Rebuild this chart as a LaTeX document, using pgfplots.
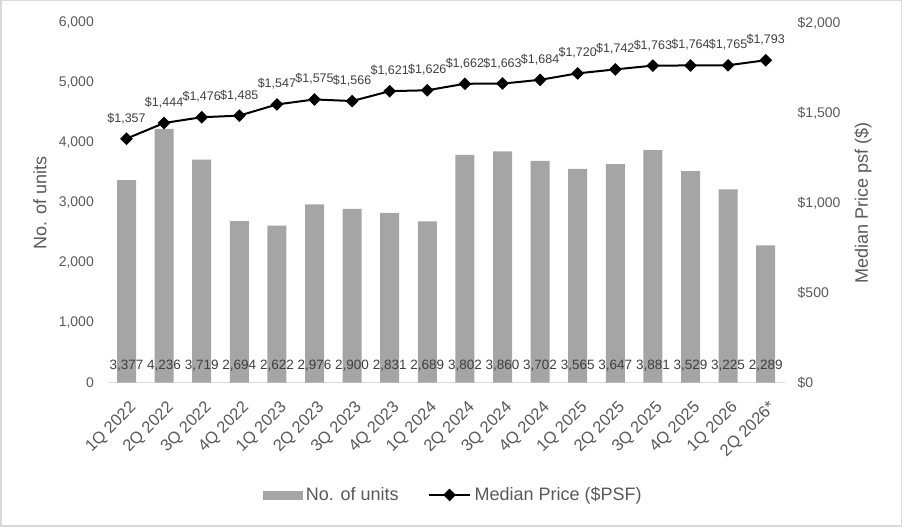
\documentclass[border=0pt]{standalone}
\usepackage{pgfplots}
\usepackage{pgfplotstable}
\pgfplotsset{compat=1.18}
\usepackage{fontspec}
\setmainfont{Liberation Sans}
\definecolor{barcol}{HTML}{A5A5A5}
\definecolor{txt}{HTML}{595959}
\definecolor{lbl}{HTML}{404040}
\definecolor{framec}{HTML}{D9D9D9}
\newcommand{\fs}[1]{\fontsize{#1}{#1}\selectfont}
\pgfplotsset{
  mylinelegend/.style={legend image code/.code={\draw[mark repeat=2,mark phase=2,##1] plot coordinates {(0pt,0pt) (20.5pt,0pt) (41pt,0pt)};}},
  mybarlegend/.style={legend image code/.code={\fill[barcol] (0pt,-4pt) rectangle (39pt,4pt);}},
}

\pgfplotstableread{
x u pos
0 3377 212
1 4236 212
2 3719 212
3 2694 212
4 2622 212
5 2976 212
6 2900 212
7 2831 212
8 2689 212
9 3802 212
10 3860 212
11 3702 212
12 3565 212
13 3647 212
14 3881 212
15 3529 212
16 3225 212
17 2289 212
}\units

\pgfplotstableread{
x p
0 1357
1 1444
2 1476
3 1485
4 1547
5 1575
6 1566
7 1621
8 1626
9 1662
10 1663
11 1684
12 1720
13 1742
14 1763
15 1764
16 1765
17 1793
}\price

\begin{document}
\begin{tikzpicture}[x=1pt,y=1pt]
\useasboundingbox (0,0) rectangle (902,527);
\draw[framec, line width=1.5pt] (0.75,0.75) rectangle (901.25,526.25);

\begin{axis}[
  at={(107.7pt,144.3pt)}, anchor=south west,
  scale only axis, width=676.8pt, height=359.7pt,
  xmin=-0.5, xmax=17.5, ymin=0, ymax=6000,
  clip=false,
  axis x line*=bottom, axis y line*=left,
  x axis line style={draw=framec, line width=1.5pt, -},
  y axis line style={draw=none},
  major tick length=0pt,
  xtick={0,...,17},
  xticklabels={1Q 2022,2Q 2022,3Q 2022,4Q 2022,1Q 2023,2Q 2023,3Q 2023,4Q 2023,1Q 2024,2Q 2024,3Q 2024,4Q 2024,1Q 2025,2Q 2025,3Q 2025,4Q 2025,1Q 2026,2Q 2026*},
  xticklabel style={yshift=-17pt, xshift=2pt, rotate=45, anchor=north east, inner sep=0pt, font=\fs{16.5}, text=txt},
  ytick={0,1000,...,6000},
  yticklabel style={anchor=east, inner sep=0pt, xshift=-13.7pt, font=\fs{14}, text=txt},
  /pgf/number format/1000 sep={,},
  /pgf/number format/assume math mode=true,
  ylabel={No. of units},
  every axis y label/.style={at={(axis description cs:0,0.5)}, xshift=-67.7pt, rotate=90, anchor=center, font=\fs{18}, text=txt},
]
\addplot[ybar, bar width=19pt, bar shift=0pt, fill=barcol, draw=none] table[x=x,y=u] {\units};
\addplot[only marks, mark=none, point meta=explicit, nodes near coords,
  nodes near coords style={anchor=base, inner sep=0pt, font=\fs{13.5}, text=lbl}]
  table[x=x,y=pos,meta=u] {\units};
\end{axis}

\begin{axis}[
  at={(107.7pt,144.3pt)}, anchor=south west,
  scale only axis, width=676.8pt, height=359.7pt,
  xmin=-0.5, xmax=17.5, ymin=0, ymax=2000,
  clip=false,
  axis x line=none, axis y line*=right,
  y axis line style={draw=none},
  major tick length=0pt,
  ytick={0,500,...,2000},
  yticklabels={\$0,\$500,{\$1,000},{\$1,500},{\$2,000}},
  yticklabel style={anchor=west, inner sep=0pt, xshift=13pt, font=\fs{14}, text=txt},
  /pgf/number format/1000 sep={,},
  /pgf/number format/assume math mode=true,
  ylabel={Median Price psf (\$)},
  every axis y label/.style={at={(axis description cs:1,0.5)}, xshift=78.5pt, rotate=90, anchor=center, font=\fs{18}, text=txt},
  legend columns=2,
  legend style={at={(axis description cs:0.5117,-0.312)}, anchor=center, draw=none, fill=none,
    font=\fs{18}, text=txt, inner sep=0pt,
    nodes={inner xsep=3.5pt, inner ysep=0pt},
    /tikz/every even column/.append style={column sep=26pt}},
]
\addlegendimage{mybarlegend}
\addlegendentry{No. of units}
\addplot[black, line width=2pt, mark=square*, mark size=3.5pt, mark options={rotate=45, solid},
  nodes near coords={\$\pgfmathprintnumber{\pgfplotspointmeta}},
  nodes near coords style={anchor=base, inner sep=0pt, yshift=16.5pt, font=\fs{12.5}, text=lbl},
  mylinelegend]
  table[x=x,y=p] {\price};
\addlegendentry{Median Price (\$PSF)}
\end{axis}
\end{tikzpicture}
\end{document}
